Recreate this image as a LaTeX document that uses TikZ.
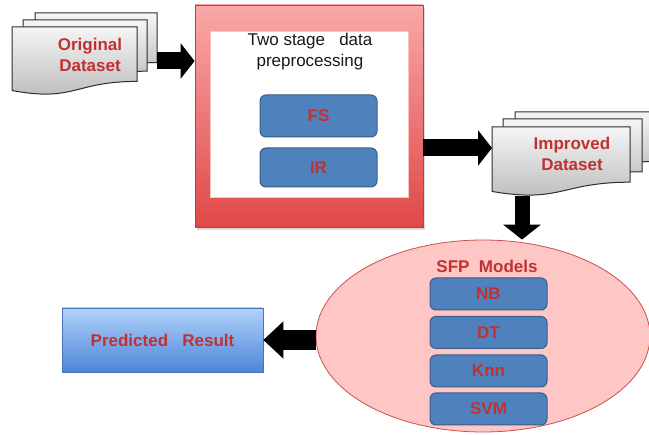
\documentclass[tikz,border=0pt]{standalone}
\usepackage{fontspec}
\setmainfont{Liberation Sans}
\usetikzlibrary{arrows.meta,calc,shapes.geometric,shadows}

\definecolor{labelred}{RGB}{192,50,50}
\definecolor{boxblue}{RGB}{79,129,189}
\definecolor{boxblueedge}{RGB}{56,93,138}
\definecolor{frametop}{RGB}{250,168,168}
\definecolor{framebot}{RGB}{224,72,72}
\definecolor{frameedge}{RGB}{190,60,60}
\definecolor{doctop}{RGB}{245,245,245}
\definecolor{docbot}{RGB}{185,185,185}
\definecolor{docedge}{RGB}{45,45,45}
\definecolor{ellfill}{RGB}{255,198,198}
\definecolor{elledge}{RGB}{200,80,77}
\definecolor{predtop}{RGB}{178,210,250}
\definecolor{predbot}{RGB}{76,134,216}
\definecolor{prededge}{RGB}{70,115,185}

\tikzset{
  x=1pt, y=-1pt,
  every node/.style={font=\fontsize{17}{21}\selectfont},
  docnode/.style={inner sep=0pt, outer sep=0pt, anchor=north west},
  doclabel/.style={text=labelred, font=\fontsize{17}{21}\selectfont\bfseries, align=center},
  framebox/.style={rectangle, draw=frameedge, line width=0.8pt,
    top color=frametop, bottom color=framebot, inner sep=0pt,
    drop shadow={shadow xshift=2pt, shadow yshift=-3pt, opacity=0.3}},
  innerbox/.style={rectangle, fill=white, draw=frametop!70!white, line width=1pt, inner sep=0pt},
  algbox/.style={rectangle, rounded corners=6pt, fill=boxblue, draw=boxblueedge,
    line width=1pt, minimum width=117pt, text=labelred,
    font=\fontsize{17}{21}\selectfont\bfseries},
  modelset/.style={ellipse, fill=ellfill, draw=elledge, line width=0.8pt,
    minimum width=334pt, minimum height=192pt, inner sep=0pt},
  resultbox/.style={rectangle, top color=predtop, bottom color=predbot,
    draw=prededge, line width=0.6pt, minimum width=201pt, minimum height=64pt,
    text=labelred, font=\fontsize{17}{21}\selectfont\bfseries},
  bigarrow/.style={line width=17pt, draw=black,
    -{Triangle[length=14pt, width=35pt]}},
}

% document sheet with a wavy lower edge, drawn over a named placeholder node
\newcommand\docsheet[1]{%
  \shade[top color=doctop, bottom color=docbot, draw=docedge, line width=1pt]
    (#1.north west) -- (#1.north east)
    -- ($(#1.north east)!0.8!(#1.south east)$)
    .. controls ($(#1.north)!0.8!(#1.south)$) and ($(#1.north)!1.107!(#1.south)$)
    .. ($(#1.north west)!0.934!(#1.south west)$) -- cycle;}

\begin{document}
\begin{tikzpicture}
\useasboundingbox (0,0) rectangle (649,435);
\clip (0,0) rectangle (649,435);

% ---- original dataset stack
\node[docnode, minimum width=122pt, minimum height=62pt] (o3) at (35,13) {};
\node[docnode, minimum width=124pt, minimum height=64pt] (o2) at (23,20) {};
\node[docnode, minimum width=125pt, minimum height=68pt] (o1) at (12,27) {};
\docsheet{o3}\docsheet{o2}\docsheet{o1}
\node[doclabel] (olab) at (90,55) {Original\\Dataset};

% ---- preprocessing frame
\node[framebox, minimum width=228pt, minimum height=222pt] (prep) at (309,116) {};
\node[innerbox, minimum width=198pt, minimum height=166pt] (prepin) at (309,115) {};
\node[align=center, text=black!90] (title) at (310,52) {Two stage\ \ \ data\\preprocessing};
\node[algbox, minimum height=42pt] (fs) at (318.5,116) {FS};
\node[algbox, minimum height=39pt] (ir) at (318.5,167.5) {IR};

% ---- improved dataset stack
\node[docnode, minimum width=140pt, minimum height=62pt] (i3) at (515,112) {};
\node[docnode, minimum width=139pt, minimum height=66pt] (i2) at (503,119) {};
\node[docnode, minimum width=138pt, minimum height=69pt] (i1) at (492,127) {};
\docsheet{i3}\docsheet{i2}\docsheet{i1}
\node[doclabel] (ilab) at (572,154) {Improved\\Dataset};

% ---- prediction models
\node[modelset] (sfp) at (483,336) {};
\node[doclabel] (sfplab) at (487,266) {SFP\ \ Models};
\node[algbox, minimum height=32pt] (nb) at (488.5,294) {NB};
\node[algbox, minimum height=32pt] (dt) at (488.5,332.5) {DT};
\node[algbox, minimum height=32pt] (knn) at (488.5,371) {Knn};
\node[algbox, minimum height=32pt] (svm) at (488.5,409) {SVM};

% ---- result
\node[resultbox] (pred) at (162.5,340) {Predicted\ \ \ Result};

% ---- connectors
\coordinate (a2) at (0,148);
\coordinate (a3) at (522,0);
\coordinate (a4) at (0,340);
\draw[bigarrow] (o1.east -| o3.east) -- (prep.west |- o1.east);
\draw[bigarrow] (prep.east |- a2) -- (i1.west |- a2);
\draw[bigarrow, line width=15pt, -{Triangle[length=15pt, width=37pt]}]
  (a3 |- i1.south) -- (a3 |- sfp.north);
\draw[bigarrow, line width=20pt, -{Triangle[length=20pt, width=36pt]}]
  (sfp.west |- a4) -- (pred.east |- a4);
\end{tikzpicture}
\end{document}
